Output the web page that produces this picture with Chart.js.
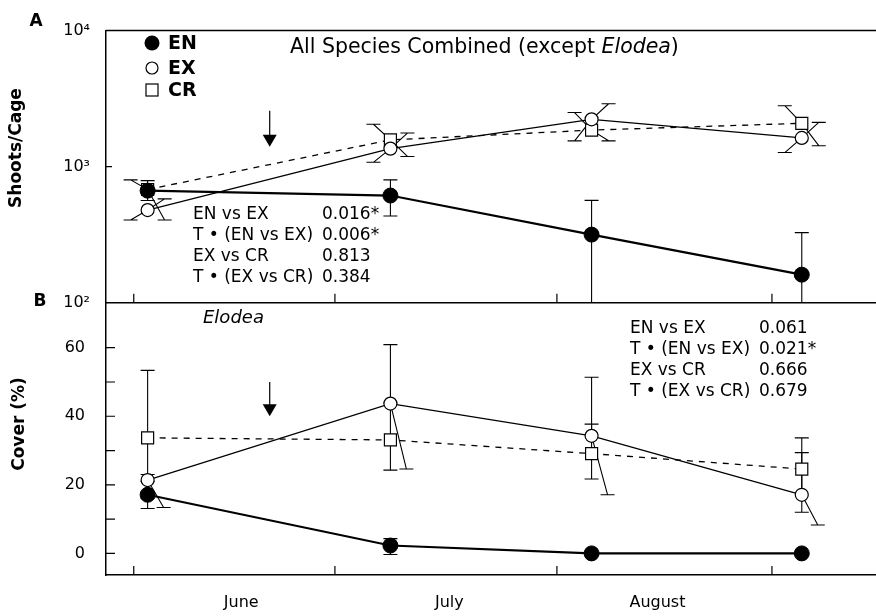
<!DOCTYPE html>
<html>
<head>
<meta charset="utf-8">
<script src="https://cdn.jsdelivr.net/npm/chart.js@4.4.0/dist/chart.umd.min.js"></script>
<style>
    html, body { margin: 0; padding: 0; background: #fff; }
    #wrap { width: 876px; height: 616px; }
</style>
</head>
<body>
<div id="wrap"><canvas id="elodeaChart" width="876" height="616"></canvas></div>
<script>
// sampling dates, as days after 1 June
const sampleDays = [2, 37, 66, 96.3];
const monthLabels = ['June', 'July', 'August'];
const monthMidDays = [15.5, 45.5, 75.5];
const monthTickDays = [0, 29, 61, 92];
const treatmentDay = 19.6;

// panel A: shoots per cage, all species except Elodea
const shootsEN = [667, 614, 317, 161];
const shootsENLow = [565, 434, 80, 80];
const shootsENHigh = [790, 800, 566, 328];
const shootsEX = [480, 1358, 2228, 1627];
const shootsEXLow = [406, 1077, 1549, 1270];
const shootsEXHigh = [580, 1767, 2900, 2118];
const shootsCR = [680, 1574, 1857, 2084];
const shootsCRLow = [406, 1189, 1549, 1427];
const shootsCRHigh = [800, 2051, 2500, 2805];
const shootTicks = [100, 1000, 10000];

// panel B: Elodea cover (%)
const coverEN = [17.1, 2.3, 0, 0];
const coverENLow = [13.1, -0.3, 0, 0];
const coverENHigh = [21, 4.3, 0, 0];
const coverEX = [21.4, 43.7, 34.3, 17.1];
const coverEXLow = [13.4, 24.6, 17.1, 8.3];
const coverEXHigh = [23, 60.9, 51.4, 29.4];
const coverCR = [33.7, 33.1, 29.1, 24.6];
const coverCRLow = [16, 24.3, 21.7, 12];
const coverCRHigh = [53.4, 43.9, 37.7, 33.7];
const coverTicks = [0, 10, 20, 30, 40, 50, 60];

// p-values printed in each panel
const statsA = [['EN vs EX', '0.016*'], ['T \u2022 (EN vs EX)', '0.006*'], ['EX vs CR', '0.813'], ['T \u2022 (EX vs CR)', '0.384']];
const statsB = [['EN vs EX', '0.061'], ['T \u2022 (EN vs EX)', '0.021*'], ['EX vs CR', '0.666'], ['T \u2022 (EX vs CR)', '0.679']];

const FONT = "'DejaVu Sans', 'Liberation Sans', Arial, sans-serif";
const SUP = { 2: '\u00B2', 3: '\u00B3', 4: '\u2074' };

function points(values) {
    return sampleDays.map((d, i) => ({ x: d, y: values[i] }));
}

// error bars, drawn under the markers; X-shaped ones lean sideways like the original
const errorBars = {
    id: 'errorBars',
    beforeDatasetsDraw(chart) {
        const ctx = chart.ctx;
        const xs = chart.scales.x;
        const area = chart.chartArea;
        chart.data.datasets.forEach(ds => {
            const ys = chart.scales[ds.yAxisID];
            ctx.save();
            ctx.beginPath();
            ctx.rect(area.left, ys.top, area.right - area.left, ys.bottom - ys.top);
            ctx.clip();
            ctx.strokeStyle = '#000';
            ctx.lineWidth = 1.1;
            ds.data.forEach((pt, i) => {
                const px = xs.getPixelForValue(pt.x);
                const py = ys.getPixelForValue(pt.y);
                [[ds.errHigh[i], ds.leanUp], [ds.errLow[i], ds.leanDown]].forEach(([v, lean]) => {
                    if (v === pt.y) return;
                    const ey = ys.getPixelForValue(v);
                    const ex = px + lean;
                    ctx.beginPath();
                    ctx.moveTo(px, py);
                    ctx.lineTo(ex, ey);
                    ctx.moveTo(ex - 7, ey);
                    ctx.lineTo(ex + 7, ey);
                    ctx.stroke();
                });
            });
            ctx.restore();
        });
    }
};

function drawArrow(ctx, x, y0, y1) {
    ctx.beginPath();
    ctx.moveTo(x, y0);
    ctx.lineTo(x, y1 - 11);
    ctx.stroke();
    ctx.beginPath();
    ctx.moveTo(x - 7, y1 - 12);
    ctx.lineTo(x + 7, y1 - 12);
    ctx.lineTo(x, y1);
    ctx.closePath();
    ctx.fill();
}

function drawStats(ctx, rows, x0, x1, y0) {
    ctx.font = '17px ' + FONT;
    ctx.textAlign = 'left';
    ctx.textBaseline = 'middle';
    rows.forEach((r, i) => {
        ctx.fillText(r[0], x0, y0 + i * 20.7);
        ctx.fillText(r[1], x1, y0 + i * 20.7);
    });
}

// frame, inward ticks, legend and text annotations
const panelDecor = {
    id: 'panelDecor',
    afterDraw(chart) {
        const ctx = chart.ctx;
        const area = chart.chartArea;
        const xs = chart.scales.x, ya = chart.scales.yA, yb = chart.scales.yB;
        ctx.save();
        ctx.strokeStyle = '#000';
        ctx.fillStyle = '#000';
        ctx.lineWidth = 1.5;
        ctx.beginPath();
        ctx.moveTo(area.left, ya.top);
        ctx.lineTo(area.right, ya.top);
        ctx.moveTo(area.left, ya.bottom);
        ctx.lineTo(area.right, ya.bottom);
        ctx.stroke();

        ctx.lineWidth = 1.2;
        ctx.beginPath();
        monthTickDays.forEach(d => {
            const x = xs.getPixelForValue(d);
            [ya.bottom, yb.bottom].forEach(y => {
                ctx.moveTo(x, y);
                ctx.lineTo(x, y - 9);
            });
        });
        ya.ticks.forEach(t => {
            if (t.value <= ya.min || t.value >= ya.max) return;
            const y = ya.getPixelForValue(t.value);
            ctx.moveTo(area.left, y);
            ctx.lineTo(area.left + 6, y);
        });
        yb.ticks.forEach(t => {
            const y = yb.getPixelForValue(t.value);
            ctx.moveTo(area.left, y);
            ctx.lineTo(area.left + 9, y);
        });
        ctx.stroke();

        // treatment arrows
        const ax = xs.getPixelForValue(treatmentDay);
        drawArrow(ctx, ax, ya.getPixelForValue(2575), ya.getPixelForValue(1403));
        drawArrow(ctx, ax, yb.getPixelForValue(50), yb.getPixelForValue(40));

        // panel letters and axis titles
        ctx.textBaseline = 'middle';
        ctx.textAlign = 'center';
        ctx.font = 'bold 17px ' + FONT;
        ctx.fillText('A', 36, 22);
        ctx.fillText('B', 40, 302);
        ctx.save();
        ctx.translate(17, 148);
        ctx.rotate(-Math.PI / 2);
        ctx.fillText('Shoots/Cage', 0, 0);
        ctx.restore();
        ctx.save();
        ctx.translate(20, 424);
        ctx.rotate(-Math.PI / 2);
        ctx.fillText('Cover (%)', 0, 0);
        ctx.restore();

        // legend
        ctx.lineWidth = 1.2;
        ctx.beginPath();
        ctx.arc(152, 43, 7.5, 0, Math.PI * 2);
        ctx.fill();
        ctx.beginPath();
        ctx.arc(152, 68, 6, 0, Math.PI * 2);
        ctx.stroke();
        ctx.strokeRect(146, 84, 12, 12);
        ctx.textAlign = 'left';
        ctx.font = 'bold 19px ' + FONT;
        ctx.fillText('EN', 168, 44);
        ctx.fillText('EX', 168, 69);
        ctx.fillText('CR', 168, 91);

        // panel titles
        ctx.font = '20.5px ' + FONT;
        let tx = 290;
        ctx.fillText('All Species Combined (except ', tx, 48);
        tx += ctx.measureText('All Species Combined (except ').width;
        ctx.font = 'oblique 20.5px ' + FONT;
        ctx.fillText('Elodea', tx, 48);
        tx += ctx.measureText('Elodea').width;
        ctx.font = '20.5px ' + FONT;
        ctx.fillText(')', tx, 48);
        ctx.font = 'oblique 18px ' + FONT;
        ctx.fillText('Elodea', 203, 318);

        drawStats(ctx, statsA, 193, 322, 215);
        drawStats(ctx, statsB, 630, 759, 329);
        ctx.restore();
    }
};

const enStyle = { borderColor: '#000', backgroundColor: '#000', borderWidth: 2.2, pointRadius: 7.5, pointBorderWidth: 1, pointStyle: 'circle', leanUp: 0, leanDown: 0 };
const exStyle = { borderColor: '#000', backgroundColor: '#fff', borderWidth: 1.3, pointRadius: 6.5, pointBorderWidth: 1.2, pointStyle: 'circle' };
const crStyle = { borderColor: '#000', backgroundColor: '#fff', borderWidth: 1.3, borderDash: [6, 6], pointRadius: 8.5, pointBorderWidth: 1.2, pointStyle: 'rect' };

new Chart(document.getElementById('elodeaChart'), {
    type: 'line',
    data: {
        datasets: [
            Object.assign({ label: 'EN', yAxisID: 'yA', data: points(shootsEN), errLow: shootsENLow, errHigh: shootsENHigh }, enStyle),
            Object.assign({ label: 'EX', yAxisID: 'yA', data: points(shootsEX), errLow: shootsEXLow, errHigh: shootsEXHigh, leanUp: 17, leanDown: -17 }, exStyle),
            Object.assign({ label: 'CR', yAxisID: 'yA', data: points(shootsCR), errLow: shootsCRLow, errHigh: shootsCRHigh, leanUp: -17, leanDown: 17 }, crStyle),
            Object.assign({ label: 'EN', yAxisID: 'yB', data: points(coverEN), errLow: coverENLow, errHigh: coverENHigh }, enStyle),
            Object.assign({ label: 'EX', yAxisID: 'yB', data: points(coverEX), errLow: coverEXLow, errHigh: coverEXHigh, leanUp: 0, leanDown: 16 }, exStyle),
            Object.assign({ label: 'CR', yAxisID: 'yB', data: points(coverCR), errLow: coverCRLow, errHigh: coverCRHigh, leanUp: 0, leanDown: 0 }, crStyle)
        ]
    },
    options: {
        responsive: false,
        animation: false,
        devicePixelRatio: 1,
        layout: { autoPadding: false, padding: { top: 18, right: 0, bottom: 0, left: 0 } },
        plugins: { legend: { display: false }, tooltip: { enabled: false } },
        elements: { line: { tension: 0 } },
        scales: {
            x: {
                type: 'linear',
                min: -4,
                max: 107,
                grid: { display: false, drawTicks: false },
                border: { display: true, color: '#000', width: 1.5 },
                afterBuildTicks: s => { s.ticks = monthMidDays.map(v => ({ value: v })); },
                afterFit: s => { s.height = 41; },
                ticks: {
                    padding: 18,
                    color: '#000',
                    font: { family: FONT, size: 16 },
                    callback: (v, i) => monthLabels[i]
                }
            },
            // stacked left axes are placed bottom-up, so panel B comes first
            yB: {
                type: 'linear',
                position: 'left',
                stack: 'panels',
                stackWeight: 1,
                min: -6.3,
                max: 73.1,
                grid: { display: false, drawTicks: false },
                border: { display: true, color: '#000', width: 1.5 },
                afterBuildTicks: s => { s.ticks = coverTicks.map(v => ({ value: v })); },
                afterFit: s => { s.width = 106; },
                ticks: {
                    padding: 21,
                    color: '#000',
                    font: { family: FONT, size: 16 },
                    callback: v => (v % 20 === 0 ? String(v) : '')
                }
            },
            yA: {
                type: 'logarithmic',
                position: 'left',
                stack: 'panels',
                stackWeight: 1,
                min: 100,
                max: 10000,
                grid: { display: false, drawTicks: false },
                border: { display: true, color: '#000', width: 1.5 },
                afterBuildTicks: s => { s.ticks = shootTicks.map(v => ({ value: v })); },
                afterFit: s => { s.width = 106; },
                ticks: {
                    padding: 16,
                    color: '#000',
                    font: { family: FONT, size: 16 },
                    callback: v => '10' + SUP[Math.round(Math.log10(v))]
                }
            }
        }
    },
    plugins: [errorBars, panelDecor]
});
</script>
</body>
</html>
